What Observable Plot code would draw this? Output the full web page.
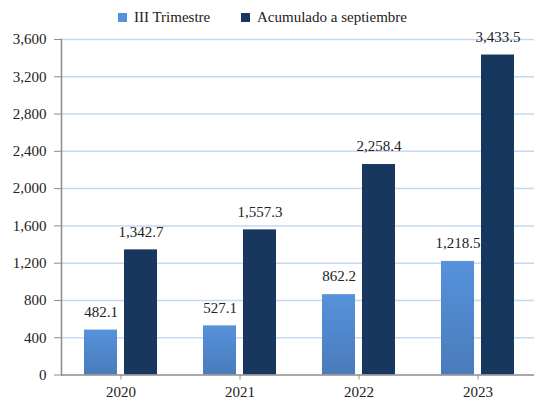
<!DOCTYPE html>
<html>
<head>
<meta charset="utf-8">
<script src="https://cdn.jsdelivr.net/npm/d3@7"></script>
<script src="https://cdn.jsdelivr.net/npm/@observablehq/plot@0.6"></script>
<style>
  body { margin: 0; background: #fff; }
  #wrap { position: relative; width: 534px; height: 401px; overflow: hidden; font-family: "Liberation Serif", serif; }
  #wrap svg, #wrap svg text { font-family: "Liberation Serif", serif !important; }
  #legend { position: absolute; top: 9px; left: 0; width: 534px; height: 20px; font-size: 15px; color: #222; }
  .item { position: absolute; top: 0; display: flex; align-items: center; white-space: nowrap; }
  .sw { width: 9px; height: 9px; margin-right: 7px; }
  #chart { position: absolute; top: 0; left: 0; }
</style>
</head>
<body>
<div id="wrap">
  <div id="chart"></div>
  <div id="legend"></div>
</div>
<script>
const years = ["2020", "2021", "2022", "2023"];
const series = ["III Trimestre", "Acumulado a septiembre"];
const trimestre = [482.1, 527.1, 862.2, 1218.5];
const acumulado = [1342.7, 1557.3, 2258.4, 3433.5];
const yTicks = [0, 400, 800, 1200, 1600, 2000, 2400, 2800, 3200, 3600];

const lightTop = "#5692dc", lightBottom = "#4a7bbb", dark = "#17375e";

const data = years.flatMap((y, i) => [
  {year: y, serie: series[0], value: trimestre[i]},
  {year: y, serie: series[1], value: acumulado[i]}
]);

const fmtTick = d3.format(",");
const fmtVal = d3.format(",.1f");

const plot = Plot.plot({
  width: 534,
  height: 401,
  marginLeft: 60,
  marginRight: -3,
  marginTop: 39,
  marginBottom: 26.5,
  style: {fontFamily: "'Liberation Serif', serif", fontSize: "15px", color: "#222", background: "transparent"},
  fx: {domain: years, padding: 0, label: null},
  x: {domain: series, paddingInner: 0.1707, paddingOuter: 0.54, axis: null},
  y: {domain: [0, 3600], axis: null, label: null},
  color: {domain: series, range: ["url(#lightGrad)", dark]},
  marks: [
    Plot.gridY(yTicks.filter(d => d > 0), {stroke: "#c6d9ee", strokeOpacity: 1, strokeWidth: 1.5}),
    Plot.barY(data, {fx: "year", x: "serie", y: "value", fill: "serie"}),
    Plot.text(data, {fx: "year", x: "serie", y: "value", text: d => fmtVal(d.value), dy: -18, fontSize: 15, fill: "#222"}),
    Plot.ruleY([0], {stroke: "#8c8c8c", strokeWidth: 1.5}),
    Plot.frame({anchor: "left", facetAnchor: "left", stroke: "#8c8c8c", strokeWidth: 1.5}),
    Plot.axisY(yTicks, {tickFormat: fmtTick, tickSize: 7, tickPadding: 8, stroke: "#8c8c8c", fontSize: 15, fill: "#222", label: null}),
    Plot.axisFx({anchor: "bottom", tickSize: 5, tickPadding: 6, stroke: "#8c8c8c", fontSize: 15, fill: "#222", label: null})
  ]
});

// gradient for the light bars
const ns = "http://www.w3.org/2000/svg";
const defs = document.createElementNS(ns, "defs");
const grad = document.createElementNS(ns, "linearGradient");
grad.setAttribute("id", "lightGrad");
grad.setAttribute("x1", "0"); grad.setAttribute("y1", "0");
grad.setAttribute("x2", "0"); grad.setAttribute("y2", "1");
[[0, lightTop], [1, lightBottom]].forEach(([o, c]) => {
  const s = document.createElementNS(ns, "stop");
  s.setAttribute("offset", o);
  s.setAttribute("stop-color", c);
  grad.appendChild(s);
});
defs.appendChild(grad);
plot.insertBefore(defs, plot.firstChild);
plot.style.overflow = "visible";

document.getElementById("chart").appendChild(plot);

// legend
const legend = document.getElementById("legend");
const legendColors = [lightTop, dark];
const legendLeft = [118, 241];
series.forEach((s, i) => {
  const item = document.createElement("div");
  item.className = "item";
  item.style.left = legendLeft[i] + "px";
  const sw = document.createElement("div");
  sw.className = "sw";
  sw.style.background = legendColors[i];
  const t = document.createElement("span");
  t.textContent = s;
  item.appendChild(sw);
  item.appendChild(t);
  legend.appendChild(item);
});
</script>
</body>
</html>
